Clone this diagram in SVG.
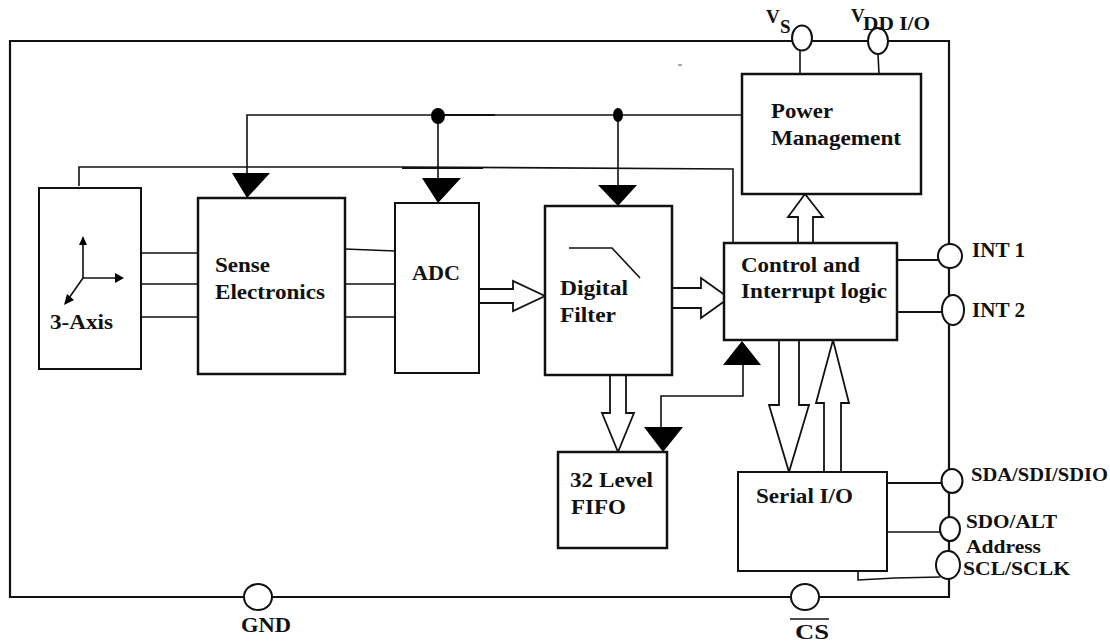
<svg xmlns="http://www.w3.org/2000/svg" width="1110" height="644" viewBox="0 0 1110 644">
<style>
.b{fill:#fff;stroke:#111;stroke-width:2}
.t{fill:#fff;stroke:#111;stroke-width:2.5}
.p{fill:#fff;stroke:#111;stroke-width:2}
.l{fill:none;stroke:#111;stroke-width:1.6}
.h{fill:none;stroke:#111;stroke-width:2.2}
.o{fill:#fff;stroke:#111;stroke-width:1.8}
.k{fill:#000;stroke:none}
text{font-family:"Liberation Serif","Times New Roman",serif;font-weight:700;fill:#111;font-size:22px}
.s{font-size:19px}
.c{font-size:20px}
</style>
<rect width="1110" height="644" fill="#fff"/>
<g id="connectors">
<path class="h" d="M790 41H10V597H949V41H790"/>
<path class="l" d="M247 173V115H742M438 116V178M618 115V185M79 186V167H402L733 169V243"/>
<path class="h" d="M438 115H495M402 168H483"/>
<path class="l" d="M800 50V74M878 54L879 74"/>
<path class="l" d="M141 253H198M141 284H198M141 317H198M345 249L395 251M345 284H395M345 317H395"/>
<path class="h" d="M897 260H938M897 312H942M887 483H942"/>
<path class="l" d="M887 532H940M858 571L858 580L895 578L940 577"/>
<path class="l" d="M743 365V396H661V427"/>
<path class="k" d="M232 173H270L247 198ZM422 178H461L438 203ZM598 185H637L618 206ZM644 427H683L663 452ZM723 365H761L742 341Z"/>
<path class="o" d="M480 289H513V281L545 296L513 311V303H480"/>
<path class="o" d="M672 288H701V278L729 298L701 318V308H672"/>
<path class="o" d="M610 375V413H602L618 452L634 413H626V375"/>
<path class="o" d="M798 243V217H788L805 194L823 217H813V243"/>
<path class="o" d="M779 340V405H769L789 472L809 405H799V340"/>
<path class="o" d="M824 472V403H816L833 340L849 403H841V472"/>
<path d="M678 65H682" stroke="#555" stroke-width="1" fill="none"/>
<ellipse class="k" cx="438" cy="116" rx="7" ry="8"/>
<ellipse class="k" cx="618" cy="115" rx="5" ry="7"/>
</g>
<g id="node-3axis">
<rect class="b" x="39" y="188" width="102" height="181"/>
<path class="l" d="M83 278V244M83 278H116M83 278L69 298"/>
<path class="k" d="M83 236L87 245H79ZM124 278L115 283V273ZM64 305L67 294L74 300Z"/>
<text x="50" y="329" textLength="63" lengthAdjust="spacingAndGlyphs">3-Axis</text>
</g>
<g id="node-sense">
<rect class="t" x="198" y="198" width="147" height="176"/>
<text x="215" y="272" textLength="55" lengthAdjust="spacingAndGlyphs">Sense</text>
<text x="215" y="299" textLength="110" lengthAdjust="spacingAndGlyphs">Electronics</text>
</g>
<g id="node-adc">
<rect class="b" x="395" y="203" width="84" height="170"/>
<text x="412" y="280" textLength="48" lengthAdjust="spacingAndGlyphs">ADC</text>
</g>
<g id="node-filter">
<rect class="t" x="545" y="206" width="127" height="169"/>
<path class="l" d="M569 248H612L640 278"/>
<text x="560" y="295" textLength="68" lengthAdjust="spacingAndGlyphs">Digital</text>
<text x="560" y="322" textLength="56" lengthAdjust="spacingAndGlyphs">Filter</text>
</g>
<g id="node-fifo">
<rect class="t" x="558" y="452" width="109" height="96"/>
<text x="570" y="487" textLength="83" lengthAdjust="spacingAndGlyphs">32 Level</text>
<text x="571" y="514" textLength="55" lengthAdjust="spacingAndGlyphs">FIFO</text>
</g>
<g id="node-power">
<rect class="t" x="742" y="74" width="179" height="120"/>
<text x="771" y="118" textLength="62" lengthAdjust="spacingAndGlyphs">Power</text>
<text x="771" y="145" textLength="130" lengthAdjust="spacingAndGlyphs">Management</text>
</g>
<g id="node-control">
<rect class="t" x="724" y="243" width="173" height="97"/>
<text x="741" y="272" textLength="119" lengthAdjust="spacingAndGlyphs">Control and</text>
<text x="741" y="298" textLength="146" lengthAdjust="spacingAndGlyphs">Interrupt logic</text>
</g>
<g id="node-serial">
<rect class="b" x="738" y="472" width="149" height="99"/>
<text x="756" y="503" textLength="97" lengthAdjust="spacingAndGlyphs">Serial I/O</text>
</g>
<g id="pin-vs">
<ellipse class="p" cx="802" cy="38" rx="10" ry="12.5"/>
<text x="766" y="23" class="s">V</text>
<text x="780" y="33" class="s">S</text>
</g>
<g id="pin-vdd">
<ellipse class="p" cx="878" cy="41" rx="10" ry="13"/>
<text x="851" y="22" class="s">V</text>
<text x="863" y="30" class="s" textLength="67" lengthAdjust="spacingAndGlyphs">DD I/O</text>
</g>
<g id="pin-int1">
<ellipse class="p" cx="950" cy="256" rx="12" ry="12"/>
<text x="972" y="257" textLength="53" lengthAdjust="spacingAndGlyphs">INT 1</text>
</g>
<g id="pin-int2">
<ellipse class="p" cx="953" cy="310" rx="11" ry="15"/>
<text x="972" y="317" textLength="53" lengthAdjust="spacingAndGlyphs">INT 2</text>
</g>
<g id="pin-sda">
<ellipse class="p" cx="952" cy="481" rx="10.5" ry="12"/>
<text x="971" y="481" class="s" textLength="137" lengthAdjust="spacingAndGlyphs">SDA/SDI/SDIO</text>
</g>
<g id="pin-sdo">
<ellipse class="p" cx="950" cy="529" rx="10" ry="12"/>
<text x="966" y="528" class="s" textLength="91" lengthAdjust="spacingAndGlyphs">SDO/ALT</text>
<text x="966" y="553" class="s" textLength="75" lengthAdjust="spacingAndGlyphs">Address</text>
</g>
<g id="pin-scl">
<ellipse class="p" cx="948" cy="565" rx="12" ry="14"/>
<text x="963" y="575" class="s" textLength="107" lengthAdjust="spacingAndGlyphs">SCL/SCLK</text>
</g>
<g id="pin-cs">
<ellipse class="p" cx="805" cy="597" rx="14" ry="13"/>
<path class="l" d="M790 619H829"/>
<text x="795" y="639" class="c" textLength="34" lengthAdjust="spacingAndGlyphs">CS</text>
</g>
<g id="pin-gnd">
<ellipse class="p" cx="258" cy="597" rx="14" ry="13"/>
<text x="241" y="632" textLength="50" lengthAdjust="spacingAndGlyphs">GND</text>
</g>
</svg>
